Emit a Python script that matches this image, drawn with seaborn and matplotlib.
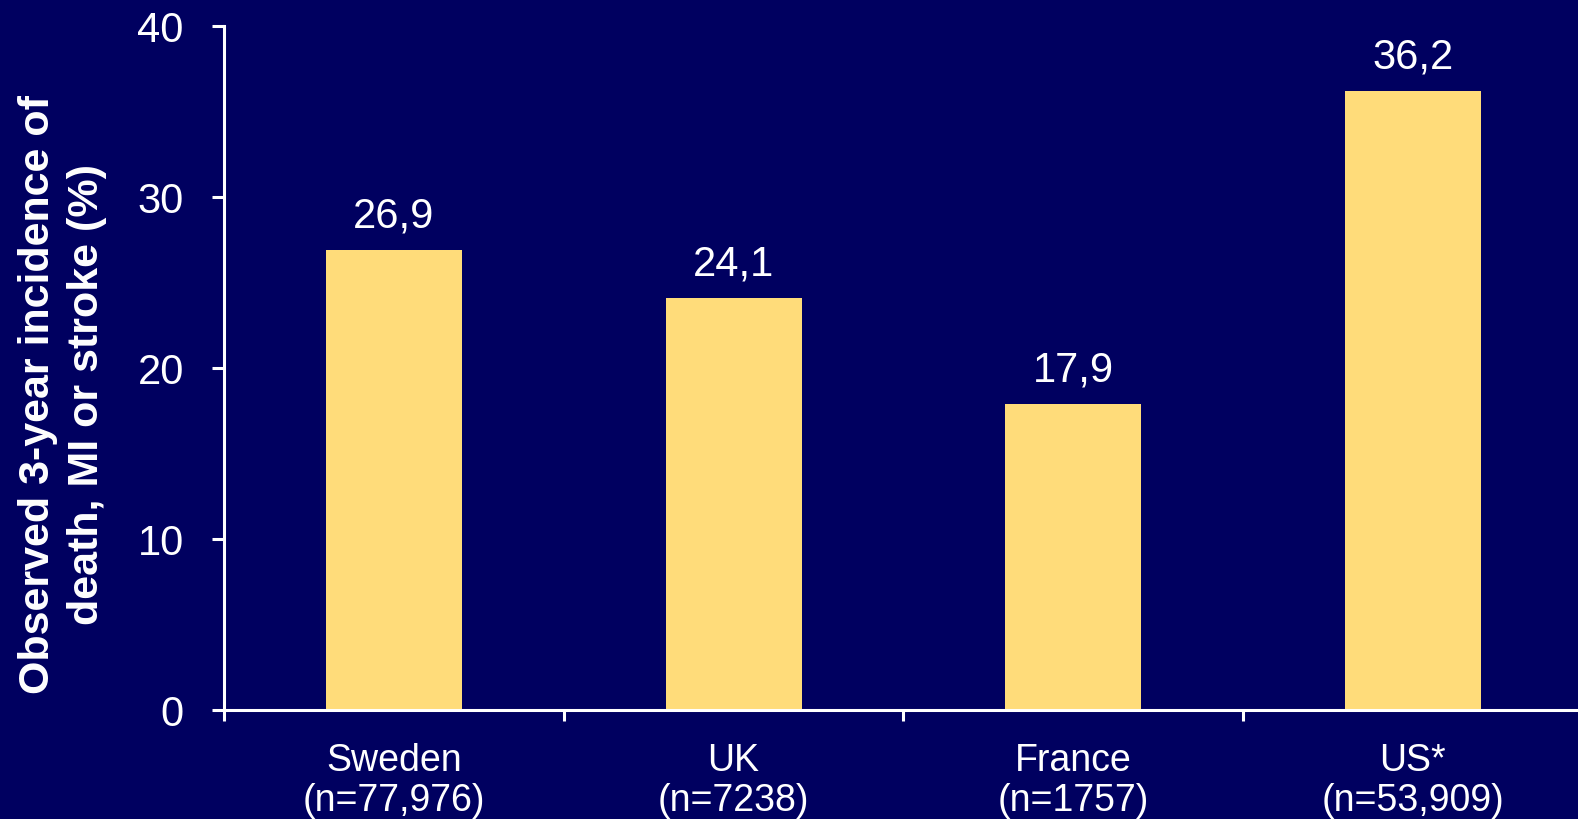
import matplotlib
matplotlib.use("Agg")
import matplotlib.pyplot as plt
import seaborn as sns
import pandas as pd
import numpy as np

# Data
countries = ["Sweden", "UK", "France", "US*"]
sample_sizes = ["(n=77,976)", "(n=7238)", "(n=1757)", "(n=53,909)"]
incidence = [26.9, 24.1, 17.9, 36.2]
y_ticks = [0, 10, 20, 30, 40]

BG = "#000060"
BAR = "#FFDC7A"
FG = "white"

sns.set_theme(style="white")
plt.rcParams["font.family"] = ["Liberation Sans", "DejaVu Sans"]

df = pd.DataFrame({
    "label": [f"{c}\n{n}" for c, n in zip(countries, sample_sizes)],
    "value": incidence,
})

fig = plt.figure(figsize=(15.78, 8.19), dpi=100, facecolor=BG)
ax = fig.add_axes([0.142, 0.133, 0.858, 0.835])
ax.set_facecolor(BG)

sns.barplot(data=df, x="label", y="value", color=BAR, width=0.4,
            saturation=1, ax=ax, edgecolor="none")

ax.set_ylim(0, 40)
ax.set_xlim(-0.5, 3.486)
ax.set_yticks(y_ticks)
ax.set_yticklabels([str(t) for t in y_ticks])

for name in ["top", "right"]:
    ax.spines[name].set_visible(False)
for name in ["left", "bottom"]:
    ax.spines[name].set_color(FG)
    ax.spines[name].set_linewidth(2.2)

ax.tick_params(axis="y", which="major", direction="out", length=9, width=2.2,
               colors=FG, labelsize=30, pad=20, left=True)
ax.tick_params(axis="x", which="major", length=0, labelsize=27, colors=FG, pad=24)
ax.set_xticks([-0.5, 0.5, 1.5, 2.5], minor=True)
ax.tick_params(axis="x", which="minor", direction="out", length=8, width=2.2,
               color=FG, bottom=True)
for lbl in ax.get_xticklabels():
    lbl.set_linespacing(1.12)

ax.set_xlabel("")
ax.set_ylabel("")
fig.text(0.0395, 0.518, "Observed 3-year incidence of\ndeath, MI or stroke (%)",
         rotation=90, ha="center", va="center", fontsize=31,
         fontweight="bold", color=FG, linespacing=1.3)

for container in ax.containers:
    ax.bar_label(container,
                 labels=[f"{v:.1f}".replace(".", ",") for v in container.datavalues],
                 padding=10, fontsize=30, color=FG)

fig.savefig("out.png", dpi=100, facecolor=BG)
